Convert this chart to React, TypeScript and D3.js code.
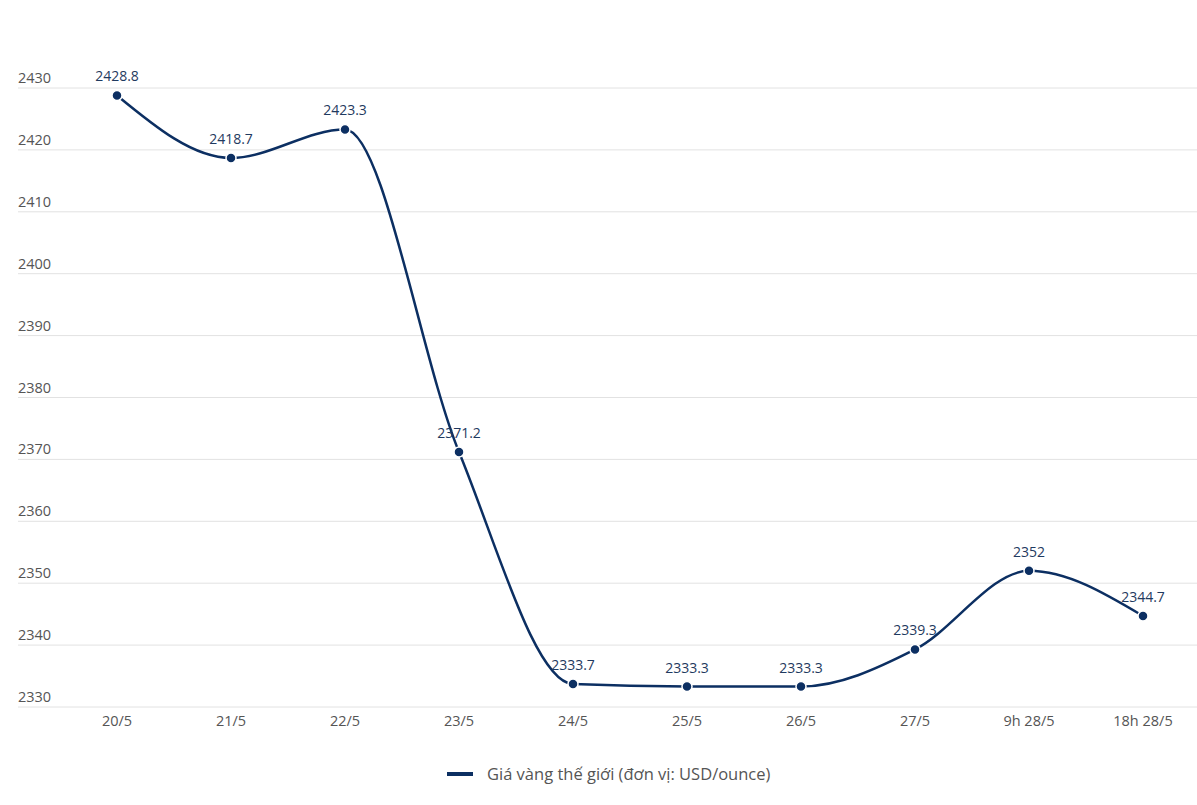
import { useMemo } from 'react'
import * as d3 from 'd3'

const categories = ['20/5', '21/5', '22/5', '23/5', '24/5', '25/5', '26/5', '27/5', '9h 28/5', '18h 28/5']
const prices = [2428.8, 2418.7, 2423.3, 2371.2, 2333.7, 2333.3, 2333.3, 2339.3, 2352, 2344.7]
const yTicks = [2330, 2340, 2350, 2360, 2370, 2380, 2390, 2400, 2410, 2420, 2430]
const seriesName = 'Giá vàng thế giới (đơn vị: USD/ounce)'

type Point = { label: string; value: number }

export default function App() {
  const width = 1197
  const height = 805
  const gridLeft = 18
  const data: Point[] = categories.map((label, i) => ({ label, value: prices[i] }))

  const x = useMemo(() => d3.scaleBand().domain(categories).range([60, 1200]), [])
  const y = useMemo(() => d3.scaleLinear().domain([2330, 2430]).range([707, 88]), [])
  const cx = (label: string) => (x(label) ?? 0) + x.bandwidth() / 2

  const line = d3
    .line<Point>()
    .x((d) => cx(d.label))
    .y((d) => y(d.value))
    .curve(d3.curveMonotoneX)

  const navy = '#0c2f62'
  const font = '"Open Sans", "Noto Sans", sans-serif'

  return (
    <div style={{ position: 'fixed', left: 0, top: 0 }}>
      <svg width={width} height={height} style={{ display: 'block', background: '#fff' }} fontFamily={font}>
        {yTicks.map((t) => (
          <g key={t}>
            <line x1={gridLeft} x2={width} y1={y(t)} y2={y(t)} stroke="#e2e2e2" strokeWidth={1} />
            <text x={gridLeft} y={y(t) - 5} fontSize={14.5} fill="#555">
              {t}
            </text>
          </g>
        ))}

        {categories.map((c) => (
          <text key={c} x={cx(c)} y={726} textAnchor="middle" fontSize={14.5} fill="#555">
            {c}
          </text>
        ))}

        <path d={line(data) ?? ''} fill="none" stroke={navy} strokeWidth={2.5} />

        {data.map((d) => (
          <g key={d.label}>
            <circle cx={cx(d.label)} cy={y(d.value)} r={5} fill={navy} stroke="#fff" strokeWidth={1.5} />
            <text x={cx(d.label)} y={y(d.value) - 14} textAnchor="middle" fontSize={14} fill="#1f3a60">
              {d.value}
            </text>
          </g>
        ))}

        <g transform="translate(447,774)">
          <line x1={0} x2={26} y1={0} y2={0} stroke={navy} strokeWidth={4} />
          <text x={40} y={5.5} fontSize={16.5} fill="#555">
            {seriesName}
          </text>
        </g>
      </svg>
    </div>
  )
}
